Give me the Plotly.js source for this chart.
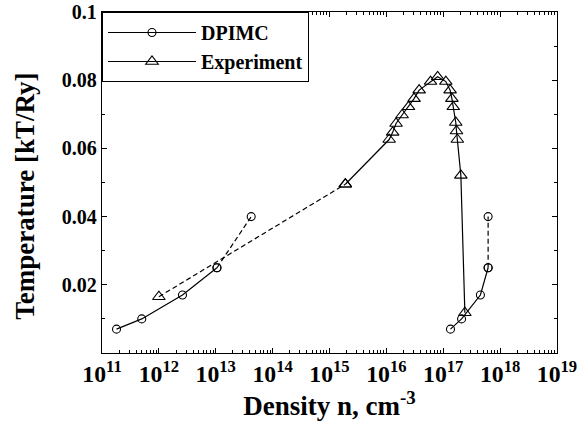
<!DOCTYPE html>
<html>
<head>
<meta charset="utf-8">
<script src="https://cdn.plot.ly/plotly-3.0.1.min.js"></script>
<style>html,body{margin:0;padding:0;background:#fff;}#chart{width:577px;height:432px;}</style>
</head>
<body>
<div id="chart"></div>
<script>
// DPIMC, low-density branch
const dpimcLeftN = [1.8e11, 5.0e11, 2.6e12, 1.05e13];
const dpimcLeftT = [0.0070, 0.0100, 0.0170, 0.0250];
const dpimcLeftDashN = [1.05e13, 4.2e13];
const dpimcLeftDashT = [0.0250, 0.0400];
// DPIMC, high-density branch
const dpimcRightN = [1.34e17, 2.1e17, 4.5e17, 6.15e17];
const dpimcRightT = [0.0070, 0.0100, 0.0170, 0.0250];
const dpimcRightDashN = [6.15e17, 6.15e17];
const dpimcRightDashT = [0.0250, 0.0400];
// Experiment
const expDashN = [1.0e12, 1.9e15];
const expDashT = [0.0165, 0.0495];
const expN = [1.9e15, 1.12e16, 1.29e16, 1.48e16, 1.89e16, 2.45e16, 3.07e16, 3.77e16,
              5.98e16, 7.97e16, 1.11e17, 1.32e17, 1.42e17, 1.50e17, 1.66e17, 1.71e17,
              1.77e17, 2.04e17, 2.4e17];
const expT = [0.0495, 0.0626, 0.0647, 0.0673, 0.0698, 0.0722, 0.0746, 0.0771,
              0.0796, 0.0810, 0.0796, 0.0771, 0.0746, 0.0722, 0.0676, 0.0651,
              0.0626, 0.0521, 0.0118];
// axis ticks
const yTickVals = [0.02, 0.04, 0.06, 0.08, 0.1];
const yTickText = ['0.02', '0.04', '0.06', '0.08', '0.1'];

const FONT = 'Liberation Serif, Times New Roman, serif';
const lineSolid = {color: '#000', width: 1.2};
const lineDash = {color: '#000', width: 1.2, dash: '5px,3px'};
const circ = {symbol: 'circle-open', size: 8, color: '#000', line: {width: 1.1, color: '#000'}};
const tri = {symbol: 'triangle-up-open', size: 11, color: '#000', line: {width: 1.1, color: '#000'}};

const traces = [
  {x: dpimcLeftN, y: dpimcLeftT, mode: 'lines+markers', line: lineSolid, marker: circ, name: 'DPIMC', legendgroup: 'd'},
  {x: dpimcLeftDashN, y: dpimcLeftDashT, mode: 'lines+markers', line: lineDash, marker: circ, showlegend: false, legendgroup: 'd'},
  {x: dpimcRightN, y: dpimcRightT, mode: 'lines+markers', line: lineSolid, marker: circ, showlegend: false, legendgroup: 'd'},
  {x: dpimcRightDashN, y: dpimcRightDashT, mode: 'lines+markers', line: lineDash, marker: circ, showlegend: false, legendgroup: 'd'},
  {x: expDashN, y: expDashT, mode: 'lines+markers', line: lineDash, marker: tri, showlegend: false, legendgroup: 'e'},
  {x: expN, y: expT, mode: 'lines+markers', line: lineSolid, marker: tri, name: 'Experiment', legendgroup: 'e'}
];

const layout = {
  width: 577, height: 432,
  margin: {l: 102, r: 20, t: 12, b: 79},
  paper_bgcolor: '#fff', plot_bgcolor: '#fff',
  font: {family: FONT, color: '#000', size: 20, weight: 'bold'},
  showlegend: true,
  legend: {x: 0, y: 1, xanchor: 'left', yanchor: 'top', bgcolor: '#fff',
           bordercolor: '#000', borderwidth: 1,
           font: {family: FONT, size: 20, weight: 'bold', color: '#000'},
           itemwidth: 88, tracegroupgap: 0},
  xaxis: {
    type: 'log', range: [11, 19], dtick: 1, exponentformat: 'power',
    showgrid: false, zeroline: false, ticklabeloverflow: 'allow',
    showline: true, linecolor: '#000', linewidth: 1.2, mirror: 'ticks',
    ticks: 'inside', ticklen: 5, tickwidth: 1, tickcolor: '#000',
    tickfont: {family: FONT, size: 19, weight: 'bold'},
    minor: {ticks: 'inside', ticklen: 3, tickwidth: 1, tickcolor: '#000', dtick: 'D1', showgrid: false},
    title: {text: 'Density n, cm<sup>-3</sup>', font: {family: FONT, size: 27, weight: 'bold'}, standoff: 8}
  },
  yaxis: {
    range: [0, 0.1], tickvals: yTickVals, ticktext: yTickText,
    showgrid: false, zeroline: false,
    showline: true, linecolor: '#000', linewidth: 1.2, mirror: 'ticks',
    ticks: 'inside', ticklen: 5, tickwidth: 1, tickcolor: '#000',
    tickfont: {family: FONT, size: 20, weight: 'bold'},
    minor: {ticks: 'inside', ticklen: 3, tickwidth: 1, tickcolor: '#000', dtick: 0.01, showgrid: false}
  },
  annotations: [{
    text: 'Temperature [kT/Ry]', textangle: -90, showarrow: false,
    xref: 'paper', yref: 'paper', x: -0.168, y: 0.46, xanchor: 'center', yanchor: 'middle',
    font: {family: FONT, size: 27, weight: 'bold', color: '#000'}
  }]
};

Plotly.newPlot('chart', traces, layout, {displayModeBar: false, staticPlot: true});
</script>
</body>
</html>
